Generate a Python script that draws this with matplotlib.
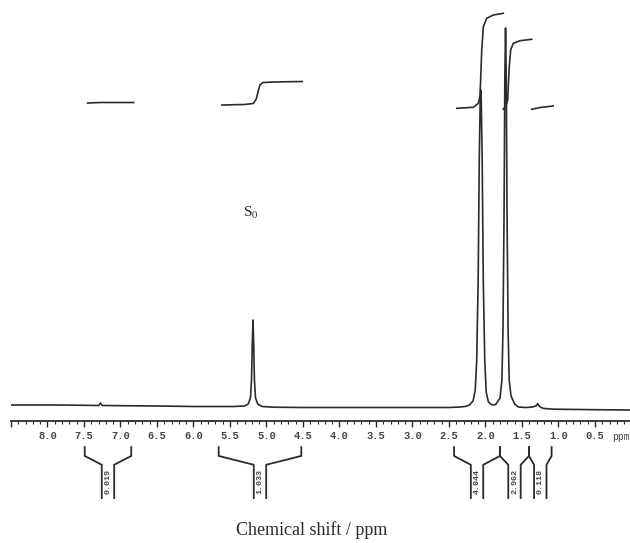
import matplotlib
matplotlib.use("Agg")
import matplotlib.pyplot as plt
import numpy as np

# 1H NMR spectrum (ppm, intensity in arbitrary units)
spec_ppm = [8.49, 7.80, 7.30, 7.275, 7.25, 6.50, 6.00, 5.45, 5.30, 5.25, 5.22,
            5.205, 5.195, 5.185, 5.175, 5.165, 5.15, 5.12, 5.06, 4.90, 4.50,
            3.50, 3.00, 2.50, 2.35, 2.28, 2.22, 2.17, 2.14, 2.12, 2.10, 2.085,
            2.072, 2.065, 2.058, 2.045, 2.03, 2.01, 1.99, 1.96, 1.92, 1.89,
            1.86, 1.80, 1.775, 1.76, 1.745, 1.735, 1.725, 1.715, 1.705, 1.69,
            1.675, 1.65, 1.60, 1.55, 1.45, 1.35, 1.30, 1.285, 1.27, 1.24, 1.20,
            1.05, 0.50, 0.02]
spec_int = [5.0, 5.0, 4.5, 7.0, 4.5, 4.0, 3.5, 3.5, 4.0, 6.0, 12.0,
            30.0, 65.0, 90.0, 65.0, 30.0, 12.0, 6.0, 3.5, 2.8, 2.5,
            2.5, 2.5, 2.5, 3.0, 3.5, 5.0, 9.0, 20.0, 50.0, 130.0, 250.0,
            310.0, 320.0, 310.0, 250.0, 130.0, 50.0, 18.0, 8.0, 5.5, 5.0,
            5.5, 12.0, 30.0, 80.0, 200.0, 330.0, 382.0, 330.0, 200.0, 80.0,
            30.0, 14.0, 6.0, 3.0, 2.5, 3.0, 4.5, 6.5, 4.5, 2.5, 1.5,
            0.8, 0.3, 0.0]

# integral traces drawn above the peaks
int1_ppm = [7.45, 7.27, 6.82]
int1_val = [307.0, 307.5, 307.5]
int2_ppm = [5.61, 5.30, 5.18, 5.14, 5.11, 5.09, 5.05, 4.90, 4.51]
int2_val = [305.0, 305.5, 306.5, 311.0, 320.0, 325.0, 327.5, 328.0, 328.5]
int3_ppm = [2.393, 2.166, 2.098, 2.075, 2.051, 2.029, 1.983, 1.893, 1.756]
int3_val = [301.7, 302.7, 306.7, 313.3, 360.0, 383.3, 391.7, 395.0, 396.7]
int4_ppm = [1.756, 1.719, 1.696, 1.674, 1.655, 1.619, 1.527, 1.367]
int4_val = [300.7, 304.0, 310.0, 343.3, 360.0, 366.7, 369.3, 370.7]
int5_ppm = [1.367, 1.25, 1.072]
int5_val = [300.7, 302.5, 304.0]

# integration regions (start, end in ppm) and their values
region_start = [7.49, 5.655, 2.43, 1.801, 1.404]
region_end = [6.853, 4.523, 1.801, 1.404, 1.094]
region_value = ["0.019", "1.033", "4.044", "2.962", "0.118"]

tick_pos = [8.5, 8.0, 7.5, 7.0, 6.5, 6.0, 5.5, 5.0, 4.5, 4.0, 3.5, 3.0, 2.5,
            2.0, 1.5, 1.0, 0.5]
tick_labels = ["", "8.0", "7.5", "7.0", "6.5", "6.0", "5.5", "5.0", "4.5",
               "4.0", "3.5", "3.0", "2.5", "2.0", "1.5", "1.0", "0.5"]

ink = "#2b2b2b"
W, H = 630, 543

fig = plt.figure(figsize=(W / 100, H / 100), dpi=100)
ax = fig.add_axes([11 / W, (H - 421) / H, (W - 11) / W, 421 / H])

ax.plot(spec_ppm, spec_int, color=ink, lw=1.2)
for xs, ys in [(int1_ppm, int1_val), (int2_ppm, int2_val), (int3_ppm, int3_val),
               (int4_ppm, int4_val), (int5_ppm, int5_val)]:
    ax.plot(xs, ys, color=ink, lw=1.2)

ax.set_xlim(8.49, 0.02)
ax.set_ylim(-11, 410)

for s in ["top", "left", "right"]:
    ax.spines[s].set_visible(False)
ax.spines["bottom"].set_color(ink)
ax.spines["bottom"].set_linewidth(1.3)
ax.set_yticks([])
ax.set_xticks(tick_pos)
ax.set_xticklabels(tick_labels, family="Liberation Mono", fontsize=7.5,
                   fontweight="bold", color="#444444")
ax.set_xticks(np.arange(0.1, 8.5, 0.1), minor=True)
ax.tick_params(axis="x", which="major", direction="out", length=4.5,
               width=1.0, color=ink, pad=3)
ax.tick_params(axis="x", which="minor", direction="out", length=2.2,
               width=0.8, color=ink)
ax.text(0.27, -0.0385, "ppm", transform=ax.get_xaxis_transform(),
        ha="left", va="center", family="Liberation Mono", fontsize=7,
        color="#444444", clip_on=False)

# integral brackets under the axis
trans = ax.get_xaxis_transform()
y_top, y_knee, y_box, y_bot, y_lab = -0.062, -0.083, -0.104, -0.183, -0.143
half = 0.085
for a, b, val in zip(region_start, region_end, region_value):
    c = (a + b) / 2
    ax.plot([a, a, c + half, c + half], [y_top, y_knee, y_box, y_bot],
            transform=trans, color=ink, lw=1.3, clip_on=False)
    ax.plot([b, b, c - half, c - half], [y_top, y_knee, y_box, y_bot],
            transform=trans, color=ink, lw=1.3, clip_on=False)
    ax.text(c, y_lab, val, transform=trans, rotation=90, ha="center",
            va="center", family="Liberation Mono", fontsize=6,
            fontweight="bold", color="#444444", clip_on=False)

plt.rcParams["mathtext.fontset"] = "stix"
ax.text(5.22, 197, r"S$_0$", ha="center", va="center",
        family="Liberation Serif", fontsize=11, color=ink)

fig.text(312 / W, 1 - 530 / H, "Chemical shift / ppm", ha="center",
         va="center", family="Liberation Serif", fontsize=13, color=ink)

fig.savefig("out.png", dpi=100)
plt.close(fig)
